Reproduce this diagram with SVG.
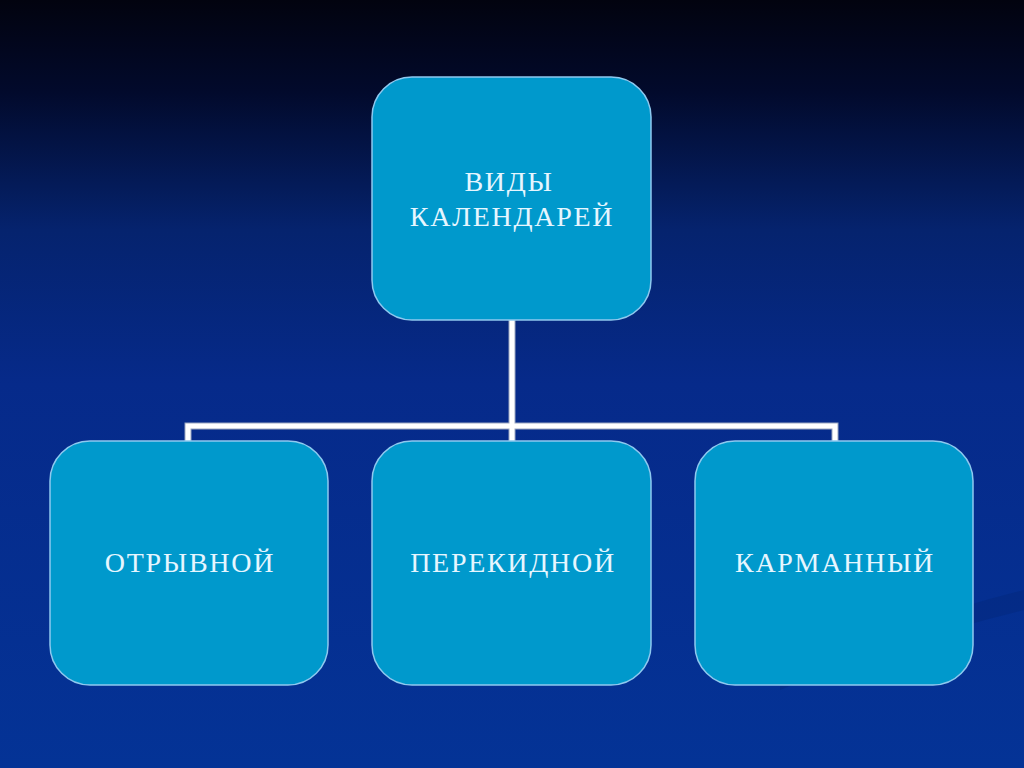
<svg xmlns="http://www.w3.org/2000/svg" width="1024" height="768" viewBox="0 0 1024 768">
  <defs>
    <linearGradient id="bg" x1="0" y1="0" x2="0" y2="1">
      <stop offset="0" stop-color="#02030f"/>
      <stop offset="0.12" stop-color="#020a2c"/>
      <stop offset="0.3" stop-color="#05236e"/>
      <stop offset="0.5" stop-color="#062a8a"/>
      <stop offset="1" stop-color="#043396"/>
    </linearGradient>
    <style>
      .node { fill: #0099cc; stroke: #8ec9ef; stroke-width: 1.5; }
      .label { font-family: "Liberation Serif", "Times New Roman", serif; font-size: 28px; fill: #e6f6ff; text-anchor: middle; letter-spacing: 1.7px; }
      .conn { fill: none; stroke: #ffffff; stroke-width: 5; }
      .connShadow { fill: none; stroke: #9aa6c0; stroke-width: 7; }
    </style>
  </defs>
  <rect width="1024" height="768" fill="url(#bg)"/>
  <path d="M 780 680 Q 900 620 1024 590 L 1024 610 Q 900 640 780 690 Z" fill="#032a80" opacity="0.6"/>
  <g id="connectors">
    <path class="connShadow" d="M 512 320 V 426 M 188 441 V 426 H 835 V 441 M 512 426 V 441"/>
    <path class="conn" d="M 512 320 V 426 M 188 441 V 426 H 835 V 441 M 512 426 V 441"/>
  </g>
  <g id="node-root">
    <rect class="node" x="372" y="77" width="279" height="243" rx="40"/>
    <text class="label" x="509" y="191">ВИДЫ</text>
    <text class="label" x="512" y="226">КАЛЕНДАРЕЙ</text>
  </g>
  <g id="node-otryvnoy">
    <rect class="node" x="50" y="441" width="278" height="244" rx="40"/>
    <text class="label" x="190" y="572">ОТРЫВНОЙ</text>
  </g>
  <g id="node-perekidnoy">
    <rect class="node" x="372" y="441" width="279" height="244" rx="40"/>
    <text class="label" x="513" y="572">ПЕРЕКИДНОЙ</text>
  </g>
  <g id="node-karmanny">
    <rect class="node" x="695" y="441" width="278" height="244" rx="40"/>
    <text class="label" x="835" y="572">КАРМАННЫЙ</text>
  </g>
</svg>
